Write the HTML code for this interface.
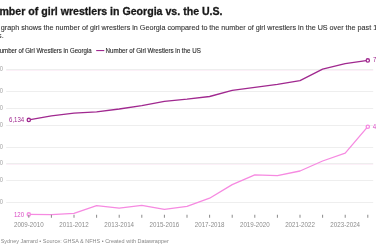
<!DOCTYPE html>
<html><head><meta charset="utf-8"><style>
html,body{margin:0;padding:0;background:#fff;width:376px;height:250px;overflow:hidden}
svg{display:block;will-change:transform}
text{font-family:"Liberation Sans",sans-serif}
</style></head><body>
<svg xmlns="http://www.w3.org/2000/svg" width="376" height="250" viewBox="0 0 376 250">
<rect width="376" height="250" fill="#fff"/>
<text transform="scale(0.9425,1)" x="-0.6" y="15.2" font-size="11.25" font-weight="bold" fill="#181818" stroke="#181818" stroke-width="0.3" id="title">mber of girl wrestlers in Georgia vs. the U.S.</text>
<text transform="scale(0.979,1)" x="0.85" y="30.4" font-size="7.35" fill="#333" stroke="#333" stroke-width="0.1" id="d1">graph shows the number of girl wrestlers in Georgia compared to the number of girl wrestlers in the US over the past 15 years.</text>
<text transform="scale(0.977,1)" x="-2.0" y="38" font-size="7.35" fill="#333" stroke="#333" stroke-width="0.1" id="d2">s.</text>
<text transform="scale(0.92,1)" x="-0.31" y="53.1" font-size="6.6" fill="#2a2a2a" stroke="#2a2a2a" stroke-width="0.12" id="l1">umber of Girl Wrestlers in Georgia</text>
<rect x="96.2" y="50" width="8.1" height="1.1" fill="#a0288f"/>
<text transform="scale(0.94,1)" x="112.34" y="53.1" font-size="6.6" fill="#2a2a2a" stroke="#2a2a2a" stroke-width="0.12" id="l2">Number of Girl Wrestlers in the US</text>
<rect x="6.2" y="69" width="367.0" height="1" fill="#eeeeee"/>
<text transform="translate(3.1,71.2) scale(0.92,1)" text-anchor="end" font-size="6.3" fill="#a3a3a3">0</text>
<rect x="6.2" y="91" width="367.0" height="1" fill="#eeeeee"/>
<text transform="translate(3.1,93.2) scale(0.92,1)" text-anchor="end" font-size="6.3" fill="#a3a3a3">0</text>
<rect x="6.2" y="108" width="367.0" height="1" fill="#eeeeee"/>
<text transform="translate(3.1,110.2) scale(0.92,1)" text-anchor="end" font-size="6.3" fill="#a3a3a3">0</text>
<rect x="6.2" y="125" width="367.0" height="1" fill="#eeeeee"/>
<text transform="translate(3.1,127.2) scale(0.92,1)" text-anchor="end" font-size="6.3" fill="#a3a3a3">0</text>
<rect x="6.2" y="147" width="367.0" height="1" fill="#eeeeee"/>
<text transform="translate(3.1,149.2) scale(0.92,1)" text-anchor="end" font-size="6.3" fill="#a3a3a3">0</text>
<rect x="6.2" y="163" width="367.0" height="1" fill="#eeeeee"/>
<text transform="translate(3.1,165.2) scale(0.92,1)" text-anchor="end" font-size="6.3" fill="#a3a3a3">0</text>
<rect x="6.2" y="180" width="367.0" height="1" fill="#eeeeee"/>
<text transform="translate(3.1,182.2) scale(0.92,1)" text-anchor="end" font-size="6.3" fill="#a3a3a3">0</text>
<rect x="6.2" y="202" width="367.0" height="1" fill="#eeeeee"/>
<text transform="translate(3.1,204.2) scale(0.92,1)" text-anchor="end" font-size="6.3" fill="#a3a3a3">0</text>
<rect x="6.2" y="70" width="367.0" height="1" fill="#fcf0f8"/>
<rect x="6.2" y="164" width="367.0" height="1" fill="#fcf0f8"/>
<text transform="translate(28.80,226.5) scale(0.89,1)" text-anchor="middle" font-size="7" fill="#8c8c8c">2009-2010</text>
<text transform="translate(74.00,226.5) scale(0.89,1)" text-anchor="middle" font-size="7" fill="#8c8c8c">2011-2012</text>
<text transform="translate(119.20,226.5) scale(0.89,1)" text-anchor="middle" font-size="7" fill="#8c8c8c">2013-2014</text>
<text transform="translate(164.40,226.5) scale(0.89,1)" text-anchor="middle" font-size="7" fill="#8c8c8c">2015-2016</text>
<text transform="translate(209.60,226.5) scale(0.89,1)" text-anchor="middle" font-size="7" fill="#8c8c8c">2017-2018</text>
<text transform="translate(254.80,226.5) scale(0.89,1)" text-anchor="middle" font-size="7" fill="#8c8c8c">2019-2020</text>
<text transform="translate(300.00,226.5) scale(0.89,1)" text-anchor="middle" font-size="7" fill="#8c8c8c">2021-2022</text>
<text transform="translate(345.20,226.5) scale(0.89,1)" text-anchor="middle" font-size="7" fill="#8c8c8c">2023-2024</text>
<path d="M28.80,214.40 L51.40,214.60 L74.00,213.30 L96.60,205.60 L119.20,208.20 L141.80,205.40 L164.40,209.30 L187.00,206.30 L209.60,198.20 L232.20,184.60 L254.80,174.90 L277.40,175.60 L300.00,171.00 L322.60,161.00 L345.20,153.20 L367.80,126.70" fill="none" stroke="#f68ae1" stroke-width="1.3" stroke-linejoin="round"/>
<path d="M28.80,119.90 L51.40,115.90 L74.00,113.20 L96.60,111.80 L119.20,109.00 L141.80,105.60 L164.40,101.30 L187.00,99.20 L209.60,96.50 L232.20,90.40 L254.80,87.30 L277.40,84.40 L300.00,80.60 L322.60,69.10 L345.20,63.60 L367.80,60.40" fill="none" stroke="#a0288f" stroke-width="1.3" stroke-linejoin="round"/>
<circle cx="28.80" cy="119.90" r="1.65" fill="#fff" stroke="#a0288f" stroke-width="1.3"/>
<circle cx="367.80" cy="60.40" r="1.65" fill="#fff" stroke="#a0288f" stroke-width="1.3"/>
<circle cx="28.80" cy="214.40" r="1.65" fill="#fff" stroke="#f68ae1" stroke-width="1.3"/>
<circle cx="367.80" cy="126.70" r="1.65" fill="#fff" stroke="#f68ae1" stroke-width="1.3"/>
<rect x="28.30" y="214.75" width="1" height="3" fill="#8a8a8a"/>
<rect x="50.90" y="214.75" width="1" height="3" fill="#8a8a8a"/>
<rect x="73.50" y="214.75" width="1" height="3" fill="#8a8a8a"/>
<rect x="96.10" y="214.75" width="1" height="3" fill="#8a8a8a"/>
<rect x="118.70" y="214.75" width="1" height="3" fill="#8a8a8a"/>
<rect x="141.30" y="214.75" width="1" height="3" fill="#8a8a8a"/>
<rect x="163.90" y="214.75" width="1" height="3" fill="#8a8a8a"/>
<rect x="186.50" y="214.75" width="1" height="3" fill="#8a8a8a"/>
<rect x="209.10" y="214.75" width="1" height="3" fill="#8a8a8a"/>
<rect x="231.70" y="214.75" width="1" height="3" fill="#8a8a8a"/>
<rect x="254.30" y="214.75" width="1" height="3" fill="#8a8a8a"/>
<rect x="276.90" y="214.75" width="1" height="3" fill="#8a8a8a"/>
<rect x="299.50" y="214.75" width="1" height="3" fill="#8a8a8a"/>
<rect x="322.10" y="214.75" width="1" height="3" fill="#8a8a8a"/>
<rect x="344.70" y="214.75" width="1" height="3" fill="#8a8a8a"/>
<rect x="367.30" y="214.75" width="1" height="3" fill="#8a8a8a"/>
<text transform="translate(24.2,121.9) scale(0.92,1)" text-anchor="end" font-size="6.6" fill="#a0288f">6,134</text>
<text transform="translate(24.1,216.6) scale(0.92,1)" text-anchor="end" font-size="6.6" fill="#d94cc4">120</text>
<text transform="translate(372.9,61.9) scale(0.92,1)" font-size="6.6" fill="#a0288f">75,000</text>
<text transform="translate(372.7,128.9) scale(0.92,1)" font-size="6.6" fill="#d94cc4">4,600</text>
<text transform="scale(0.915,1)" x="0.7" y="243.3" font-size="6" fill="#888" id="foot">Sydney Jarrard • Source: GHSA &amp; NFHS • Created with Datawrapper</text>
</svg>
</body></html>
